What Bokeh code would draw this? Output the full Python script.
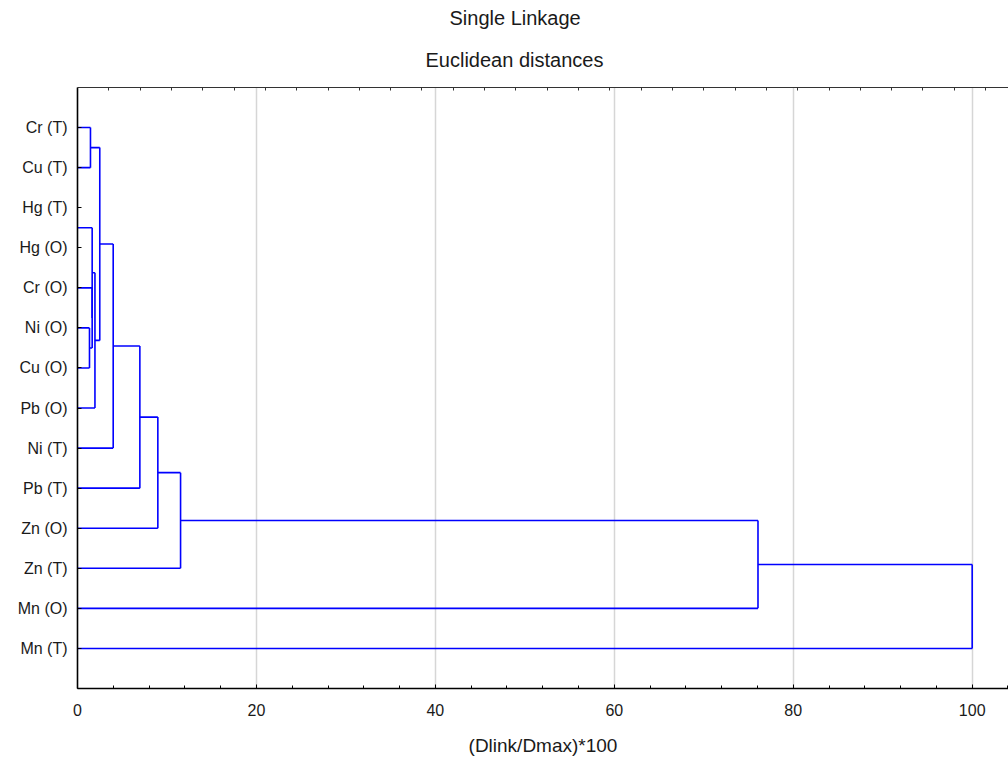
from bokeh.plotting import figure
from bokeh.models import (Range1d, FixedTicker, SingleIntervalTicker, LinearAxis,
                          Title, ColumnDataSource)
from bokeh.embed import file_html
from bokeh.resources import INLINE

# ---- data ----
leaves = ["Cr (T)", "Cu (T)", "Hg (T)", "Hg (O)", "Cr (O)", "Ni (O)", "Cu (O)",
          "Pb (O)", "Ni (T)", "Pb (T)", "Zn (O)", "Zn (T)", "Mn (O)", "Mn (T)"]
# merge steps: ids < 14 are leaves, id 14+k is the cluster built at step k
merge_left = [2, 5, 0, 4, 14, 18, 16, 20, 21, 22, 23, 24, 25]
merge_right = [3, 6, 1, 15, 17, 7, 19, 8, 9, 10, 11, 12, 13]
merge_dist = [0.0, 1.34, 1.45, 1.64, 1.64, 1.95, 2.49, 3.99, 6.97, 8.98, 11.52, 76.06, 100.0]
x_ticks_major = 20
top_tick_step = 3.5
title_lines = ["Single Linkage", "Euclidean distances"]
x_label = "(Dlink/Dmax)*100"

# ---- build segments from the linkage ----
n = len(leaves)
pos = {i: (0.0, float(i)) for i in range(n)}
x0, y0, x1, y1 = [], [], [], []
for k, (a, b, d) in enumerate(zip(merge_left, merge_right, merge_dist)):
    xa, ya = pos[a]
    xb, yb = pos[b]
    for (xc, yc) in ((xa, ya), (xb, yb)):
        if d > xc:
            x0.append(xc); y0.append(yc); x1.append(d); y1.append(yc)
    if d > 0:
        x0.append(d); y0.append(ya); x1.append(d); y1.append(yb)
    pos[n + k] = (d, (ya + yb) / 2.0)

src = ColumnDataSource(dict(x0=x0, y0=y0, x1=x1, y1=y1))

FONT = "Liberation Sans"
X_END = 104.06

p = figure(width=1008, height=758,
           x_range=Range1d(0, X_END), y_range=Range1d(14, -1),
           output_backend="svg", toolbar_location=None,
           min_border_left=77, min_border_right=0,
           min_border_top=87, min_border_bottom=70,
           background_fill_color="white", border_fill_color="white")
p.outline_line_color = None
p.title.visible = False

p.segment("x0", "y0", "x1", "y1", source=src, line_color="#0000ff", line_width=1.6)

# x axis (bottom)
xa = p.xaxis[0]
xa.ticker = SingleIntervalTicker(interval=x_ticks_major, num_minor_ticks=5)
xa.major_tick_in = 4
xa.major_tick_out = 0
xa.minor_tick_in = 3
xa.minor_tick_out = 0
xa.axis_line_width = 1.6
xa.axis_line_color = "black"
xa.major_tick_line_color = "black"
xa.minor_tick_line_color = "black"
xa.major_label_text_font = FONT
xa.major_label_text_font_size = "16px"
xa.major_label_text_color = "#1a1a1a"
xa.major_label_standoff = 15
xa.axis_label = x_label
xa.axis_label_text_font = FONT
xa.axis_label_text_font_size = "19px"
xa.axis_label_text_font_style = "normal"
xa.axis_label_text_color = "#1a1a1a"
xa.axis_label_standoff = 16

# y axis (left)
ya = p.yaxis[0]
ya.ticker = FixedTicker(ticks=list(range(n)))
ya.major_label_overrides = {i: lab for i, lab in enumerate(leaves)}
ya.major_tick_in = 4
ya.major_tick_out = 0
ya.minor_tick_in = 0
ya.minor_tick_out = 0
ya.axis_line_width = 1.6
ya.axis_line_color = "black"
ya.major_tick_line_color = "black"
ya.major_label_text_font = FONT
ya.major_label_text_font_size = "16px"
ya.major_label_text_color = "#1a1a1a"
ya.major_label_standoff = 10

# top axis (unlabelled ticks only, drawn as minor ticks)
top_ticks = [top_tick_step * k for k in range(1, int(X_END / top_tick_step) + 1)]
top = LinearAxis(ticker=FixedTicker(ticks=[], minor_ticks=top_ticks))
top.major_label_standoff = 0
top.major_tick_in = 0
top.major_tick_out = 0
top.minor_tick_in = 3
top.minor_tick_out = 0
top.axis_line_color = "#333333"
top.axis_line_width = 1.2
top.minor_tick_line_color = "#333333"
p.add_layout(top, "above")

p.xgrid.ticker = SingleIntervalTicker(interval=x_ticks_major, num_minor_ticks=0)
p.xgrid.grid_line_color = "#d6d6d6"
p.xgrid.grid_line_width = 1.5
p.ygrid.grid_line_color = None

# titles (first added sits nearest the frame)
p.add_layout(Title(text=title_lines[1], align="left", offset=348, text_font=FONT,
                   text_font_size="20px", text_font_style="normal",
                   text_color="#1a1a1a", standoff=33), "above")
p.add_layout(Title(text=title_lines[0], align="left", offset=372, text_font=FONT,
                   text_font_size="20px", text_font_style="normal",
                   text_color="#1a1a1a", standoff=4), "above")

open("out.html", "w").write(file_html(p, INLINE))
